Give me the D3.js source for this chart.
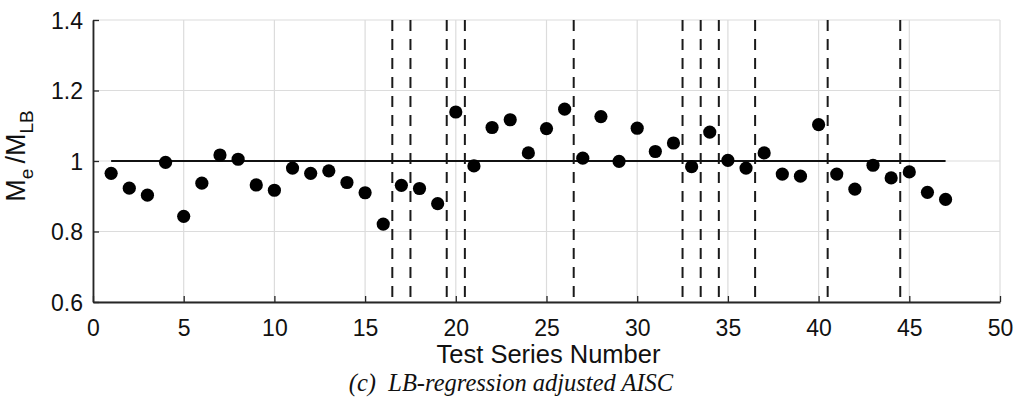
<!DOCTYPE html>
<html>
<head>
<meta charset="utf-8">
<script src="https://cdn.jsdelivr.net/npm/d3@7"></script>
<style>
  html, body { margin: 0; padding: 0; background: #fff; }
  svg { display: block; }
</style>
</head>
<body>
<svg id="chart" width="1023" height="410"></svg>
<script>
// Test series numbers and their M_e / M_LB ratios
const seriesNumbers = d3.range(1, 48);
const ratioValues = [
  0.965, 0.923, 0.903, 0.996, 0.843, 0.937, 1.017, 1.005, 0.932, 0.917,
  0.980, 0.965, 0.972, 0.939, 0.910, 0.821, 0.931, 0.922, 0.879, 1.139,
  0.986, 1.095, 1.117, 1.023, 1.092, 1.147, 1.008, 1.126, 0.999, 1.093,
  1.027, 1.051, 0.984, 1.082, 1.002, 0.980, 1.023, 0.963, 0.957, 1.103,
  0.963, 0.920, 0.988, 0.952, 0.969, 0.911, 0.891
];
// Boundaries between specimen groups
const groupBoundaries = [16.5, 17.5, 19.5, 20.5, 26.5, 32.5, 33.5, 34.5, 36.5, 40.5, 44.5];
// Unity reference line extent
const unityLine = { from: 1, to: 47, value: 1 };
const xTicks = [0, 5, 10, 15, 20, 25, 30, 35, 40, 45, 50];
const yTicks = [0.6, 0.8, 1.0, 1.2, 1.4];

const margin = { left: 93, top: 20, right: 23, bottom: 108 };
const width = 1023 - margin.left - margin.right;
const height = 410 - margin.top - margin.bottom;

const svg = d3.select("#chart");
const g = svg.append("g").attr("transform", `translate(${margin.left},${margin.top})`);

const x = d3.scaleLinear().domain([0, 50]).range([0, width]);
const y = d3.scaleLinear().domain([0.6, 1.4]).range([height, 0]);

const axisColor = "#262626";
const gridColor = "#dcdcdc";

// Grid
g.append("g").selectAll("line.vgrid").data(xTicks).join("line")
  .attr("x1", d => x(d)).attr("x2", d => x(d))
  .attr("y1", 0).attr("y2", height)
  .attr("stroke", gridColor).attr("stroke-width", 1.2);
g.append("g").selectAll("line.hgrid").data(yTicks).join("line")
  .attr("x1", 0).attr("x2", width)
  .attr("y1", d => y(d)).attr("y2", d => y(d))
  .attr("stroke", gridColor).attr("stroke-width", 1.2);

// Group boundaries (dashed)
g.append("g").selectAll("line").data(groupBoundaries).join("line")
  .attr("x1", d => x(d)).attr("x2", d => x(d))
  .attr("y1", 0).attr("y2", height)
  .attr("stroke", "#1a1a1a").attr("stroke-width", 2)
  .attr("stroke-dasharray", "11,8");

// Unity line
g.append("line")
  .attr("x1", x(unityLine.from)).attr("x2", x(unityLine.to))
  .attr("y1", y(unityLine.value)).attr("y2", y(unityLine.value))
  .attr("stroke", "#111").attr("stroke-width", 2);

// Axes (ticks pointing inward)
const xAxis = d3.axisBottom(x).tickValues(xTicks).tickSizeInner(-6).tickSizeOuter(0).tickPadding(0).tickFormat(d3.format("d"));
const yAxis = d3.axisLeft(y).tickValues(yTicks).tickSizeInner(-6).tickSizeOuter(0).tickPadding(0)
  .tickFormat(d => d === 1 ? "1" : d3.format(".1f")(d));

const gx = g.append("g").attr("transform", `translate(0,${height})`).call(xAxis);
const gy = g.append("g").call(yAxis);

[gx, gy].forEach(a => {
  a.select(".domain").attr("stroke", axisColor).attr("stroke-width", 1.8);
  a.selectAll(".tick line").attr("stroke", axisColor).attr("stroke-width", 1.3);
  a.selectAll(".tick text")
    .attr("fill", "#111")
    .attr("font-family", "Liberation Sans, Arial, sans-serif")
    .attr("font-size", 23);
});
gx.selectAll(".tick text").attr("y", 0).attr("dy", null).attr("transform", "translate(0,34)");
gy.selectAll(".tick text").attr("x", -10).attr("dy", "0.36em");

// Points
g.append("g").selectAll("circle").data(seriesNumbers).join("circle")
  .attr("cx", d => x(d))
  .attr("cy", (d, i) => y(ratioValues[i]))
  .attr("r", 6.6)
  .attr("fill", "#000");

// X axis title
svg.append("text")
  .attr("x", margin.left + width / 2 + 2)
  .attr("y", 363)
  .attr("text-anchor", "middle")
  .attr("font-family", "Liberation Sans, Arial, sans-serif")
  .attr("font-size", 25.5)
  .attr("fill", "#111")
  .text("Test Series Number");

// Y axis title with subscripts
const yl = svg.append("text")
  .attr("transform", "translate(25,156) rotate(-90)")
  .attr("text-anchor", "middle")
  .attr("font-family", "Liberation Sans, Arial, sans-serif")
  .attr("font-size", 27)
  .attr("fill", "#111")
  .attr("xml:space", "preserve")
  .style("white-space", "pre");
yl.append("tspan").text("M");
yl.append("tspan").attr("font-size", 19).attr("dy", 8).text("e ");
yl.append("tspan").attr("dy", -8).text("/M");
yl.append("tspan").attr("font-size", 19).attr("dy", 8).text("LB");

// Caption
svg.append("text")
  .attr("x", 511)
  .attr("y", 391)
  .attr("text-anchor", "middle")
  .attr("font-family", "Liberation Serif, Times New Roman, serif")
  .attr("font-style", "italic")
  .attr("font-size", 24.5)
  .attr("fill", "#111")
  .style("white-space", "pre")
  .text("(c)  LB-regression adjusted AISC");
</script>
</body>
</html>
